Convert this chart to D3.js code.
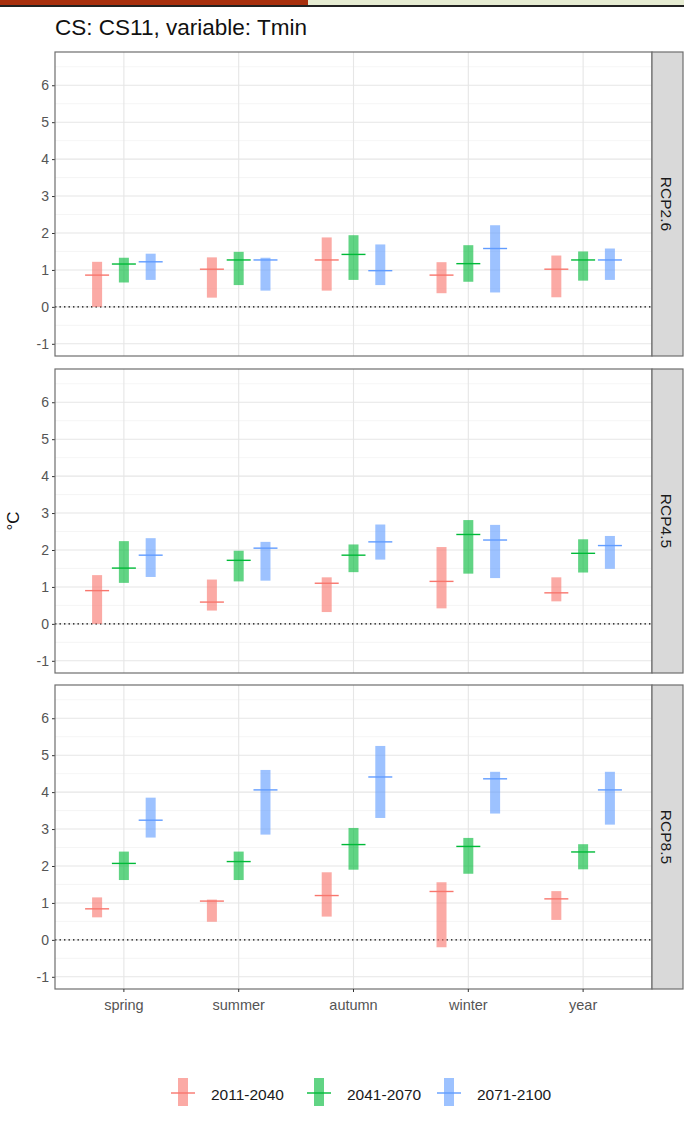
<!DOCTYPE html>
<html>
<head>
<meta charset="utf-8">
<script src="https://cdn.jsdelivr.net/npm/d3@7"></script>
<style>
  body { margin: 0; background: #fff; }
  svg { display: block; font-family: "Liberation Sans", Arial, sans-serif; }
</style>
</head>
<body>
<div class="wrapper-chart"></div>
<script>
// categories / series
const seasons = ["spring", "summer", "autumn", "winter", "year"];
const periods = ["2011-2040", "2041-2070", "2071-2100"];
const scenarios = ["RCP2.6", "RCP4.5", "RCP8.5"];
const periodColors = ["#F8766D", "#00BA38", "#619CFF"];
const yTicks = [-1, 0, 1, 2, 3, 4, 5, 6];

// values per scenario: [period][season] -> low / median / high (°C)
const rcp26Low = [[0.00, 0.25, 0.44, 0.37, 0.26], [0.66, 0.59, 0.73, 0.68, 0.71], [0.73, 0.44, 0.59, 0.39, 0.73]];
const rcp26Mid = [[0.86, 1.02, 1.27, 0.86, 1.02], [1.16, 1.27, 1.42, 1.17, 1.27], [1.22, 1.27, 0.98, 1.58, 1.27]];
const rcp26High = [[1.22, 1.34, 1.88, 1.21, 1.39], [1.33, 1.49, 1.94, 1.67, 1.50], [1.44, 1.33, 1.69, 2.21, 1.58]];

const rcp45Low = [[0.00, 0.36, 0.32, 0.42, 0.61], [1.11, 1.15, 1.40, 1.36, 1.39], [1.27, 1.17, 1.74, 1.24, 1.49]];
const rcp45Mid = [[0.90, 0.59, 1.10, 1.15, 0.84], [1.51, 1.72, 1.86, 2.42, 1.91], [1.86, 2.05, 2.22, 2.27, 2.12]];
const rcp45High = [[1.32, 1.20, 1.26, 2.08, 1.26], [2.24, 1.98, 2.15, 2.81, 2.29], [2.32, 2.22, 2.69, 2.68, 2.38]];

const rcp85Low = [[0.61, 0.49, 0.63, -0.20, 0.54], [1.62, 1.62, 1.90, 1.79, 1.91], [2.77, 2.85, 3.30, 3.42, 3.12]];
const rcp85Mid = [[0.84, 1.05, 1.20, 1.31, 1.11], [2.07, 2.12, 2.58, 2.53, 2.38], [3.24, 4.06, 4.41, 4.36, 4.06]];
const rcp85High = [[1.15, 1.09, 1.83, 1.56, 1.32], [2.39, 2.39, 3.03, 2.76, 2.59], [3.85, 4.60, 5.25, 4.55, 4.55]];

const panelData = [
  {low: rcp26Low, mid: rcp26Mid, high: rcp26High},
  {low: rcp45Low, mid: rcp45Mid, high: rcp45High},
  {low: rcp85Low, mid: rcp85Mid, high: rcp85High}
];

const width = 684, height = 1134;
const panelLeft = 55, panelRight = 652, stripW = 31;
const panelTops = [52, 369, 685];
const panelH = 304;
const fontFam = "Liberation Sans, Arial, sans-serif";

const svg = d3.select(".wrapper-chart")
  .append("svg")
  .attr("width", width)
  .attr("height", height)
  .attr("viewBox", [0, 0, width, height]);

// screenshot frame strip at the very top
svg.append("rect").attr("x", 0).attr("y", 0).attr("width", width).attr("height", 6).attr("fill", "#E6ECD2");
svg.append("rect").attr("x", 0).attr("y", 0).attr("width", 308).attr("height", 6).attr("fill", "#A8300E");
svg.append("rect").attr("x", 0).attr("y", 5).attr("width", width).attr("height", 2).attr("fill", "#222");

svg.append("text")
  .attr("x", panelLeft)
  .attr("y", 35)
  .attr("font-size", 22.5)
  .attr("fill", "#111")
  .attr("textLength", 252)
  .attr("lengthAdjust", "spacingAndGlyphs")
  .text("CS: CS11, variable: Tmin");

svg.append("text")
  .attr("transform", "translate(19," + 521 + ") rotate(-90)")
  .attr("text-anchor", "middle")
  .attr("font-size", 17)
  .attr("fill", "#111")
  .text("°C");

const x = d3.scaleBand()
  .domain(seasons)
  .range([panelLeft, panelRight])
  .paddingOuter(0.1)
  .paddingInner(0);
const xCenter = s => x(s) + x.bandwidth() / 2;
const dodge = d3.scaleBand().domain(periods).range([-0.35, 0.35]);

const barW = 10, medW = 24;

panelData.forEach((pd, pi) => {
  const top = panelTops[pi];
  const y = d3.scaleLinear().domain([-1.33, 6.9]).range([top + panelH, top]);
  const g = svg.append("g").attr("class", "panel");

  // grid
  g.selectAll(".minor").data(d3.range(-0.5, 7, 1)).join("line")
    .attr("x1", panelLeft).attr("x2", panelRight)
    .attr("y1", d => y(d)).attr("y2", d => y(d))
    .attr("stroke", "#F0F0F0").attr("stroke-width", 0.7);
  g.selectAll(".major").data(yTicks).join("line")
    .attr("x1", panelLeft).attr("x2", panelRight)
    .attr("y1", d => y(d)).attr("y2", d => y(d))
    .attr("stroke", "#E6E6E6").attr("stroke-width", 1.1);
  g.selectAll(".vmajor").data(seasons).join("line")
    .attr("x1", d => xCenter(d)).attr("x2", d => xCenter(d))
    .attr("y1", top).attr("y2", top + panelH)
    .attr("stroke", "#E6E6E6").attr("stroke-width", 1.1);

  // zero line
  g.append("line")
    .attr("x1", panelLeft).attr("x2", panelRight)
    .attr("y1", y(0)).attr("y2", y(0))
    .attr("stroke", "#000").attr("stroke-width", 1.4)
    .attr("stroke-dasharray", "1.4,3.1");

  // ranges + medians
  periods.forEach((p, k) => {
    seasons.forEach((s, j) => {
      const cx = xCenter(s) + (dodge(p) + dodge.bandwidth() / 2) * x.bandwidth();
      g.append("rect")
        .attr("x", cx - barW / 2)
        .attr("width", barW)
        .attr("y", y(pd.high[k][j]))
        .attr("height", y(pd.low[k][j]) - y(pd.high[k][j]))
        .attr("fill", periodColors[k])
        .attr("fill-opacity", 0.62);
      g.append("line")
        .attr("x1", cx - medW / 2).attr("x2", cx + medW / 2)
        .attr("y1", y(pd.mid[k][j])).attr("y2", y(pd.mid[k][j]))
        .attr("stroke", periodColors[k]).attr("stroke-width", 1.4);
    });
  });

  // y axis
  const yAxis = d3.axisLeft(y).tickValues(yTicks).tickFormat(d => String(d)).tickSize(3).tickPadding(3);
  const ya = g.append("g").attr("transform", "translate(" + panelLeft + ",0)").call(yAxis);
  ya.select(".domain").remove();
  ya.selectAll("line").attr("stroke", "#333");
  ya.selectAll("text").attr("font-size", 14).attr("fill", "#555").attr("font-family", fontFam);

  // border
  g.append("rect")
    .attr("x", panelLeft).attr("y", top)
    .attr("width", panelRight - panelLeft).attr("height", panelH)
    .attr("fill", "none").attr("stroke", "#6E6E6E").attr("stroke-width", 1.2);

  // strip
  g.append("rect")
    .attr("x", panelRight).attr("y", top)
    .attr("width", stripW).attr("height", panelH)
    .attr("fill", "#D9D9D9").attr("stroke", "#6E6E6E").attr("stroke-width", 1.2);
  g.append("text")
    .attr("transform", "translate(" + (panelRight + stripW / 2 - 1) + "," + (top + panelH / 2) + ") rotate(90)")
    .attr("text-anchor", "middle")
    .attr("dominant-baseline", "central")
    .attr("font-size", 15.5)
    .attr("fill", "#1A1A1A")
    .text(scenarios[pi]);

  if (pi === 2) {
    const xa = g.append("g")
      .attr("transform", "translate(0," + (top + panelH) + ")")
      .call(d3.axisBottom(x).tickSize(3).tickPadding(8));
    xa.select(".domain").remove();
    xa.selectAll("line").attr("stroke", "#333");
    xa.selectAll("text").attr("font-size", 14.5).attr("fill", "#555").attr("font-family", fontFam);
  }
});

// legend
const legendX = [183, 319, 449];
const legend = svg.append("g").attr("class", "legend");
periods.forEach((p, k) => {
  const lg = legend.append("g").attr("transform", "translate(" + legendX[k] + ",1092)");
  lg.append("rect").attr("x", -barW / 2).attr("y", -14).attr("width", barW).attr("height", 28)
    .attr("fill", periodColors[k]).attr("fill-opacity", 0.62);
  lg.append("line").attr("x1", -12).attr("x2", 12).attr("y1", 1).attr("y2", 1)
    .attr("stroke", periodColors[k]).attr("stroke-width", 1.4);
  lg.append("text").attr("x", 28).attr("y", 2).attr("dominant-baseline", "central")
    .attr("font-size", 15.5).attr("fill", "#1A1A1A").text(p);
});
</script>
</body>
</html>
